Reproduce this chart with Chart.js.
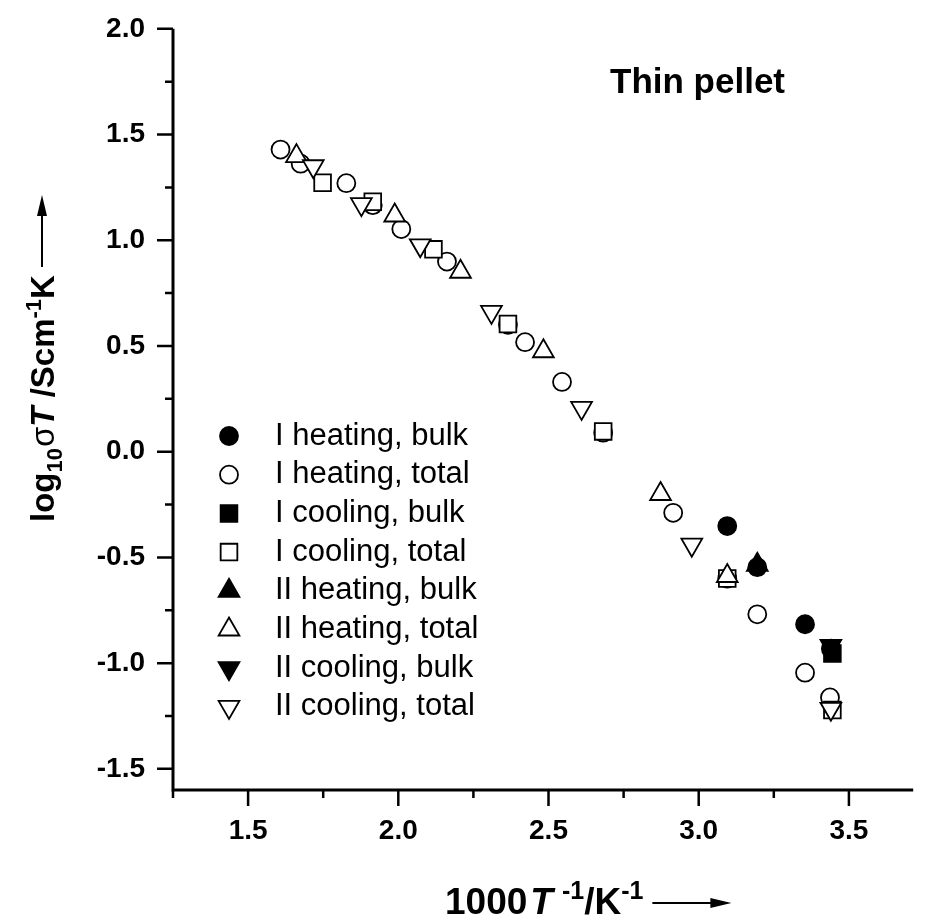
<!DOCTYPE html>
<html>
<head>
<meta charset="utf-8">
<title>Thin pellet</title>
<script src="https://cdn.jsdelivr.net/npm/chart.js@4.4.1/dist/chart.umd.min.js"></script>
<style>
  body { margin: 0; background: #fff; }
  canvas { display: block; }
</style>
</head>
<body>
<canvas id="pelletChart" width="927" height="922"></canvas>
<script>
// x = 1000/T (K^-1), y = log10(sigma*T)
const iHeatBulkX = [3.095, 3.195, 3.354, 3.440];
const iHeatBulkY = [-0.352, -0.546, -0.816, -0.932];
const iHeatTotalX = [1.608, 1.675, 1.827, 1.915, 2.010, 2.162, 2.365, 2.422, 2.545, 2.682, 2.915, 3.095, 3.195, 3.354, 3.437];
const iHeatTotalY = [1.429, 1.362, 1.270, 1.166, 1.053, 0.899, 0.600, 0.518, 0.330, 0.090, -0.289, -0.600, -0.769, -1.045, -1.162];
const iCoolBulkX = [3.445];
const iCoolBulkY = [-0.955];
const iCoolTotalX = [1.748, 1.915, 2.117, 2.365, 2.682, 3.095, 3.445];
const iCoolTotalY = [1.272, 1.182, 0.957, 0.604, 0.096, -0.600, -1.222];
const iiHeatBulkX = [3.195];
const iiHeatBulkY = [-0.535];
const iiHeatTotalX = [1.661, 1.988, 2.207, 2.483, 2.873, 3.095];
const iiHeatTotalY = [1.398, 1.117, 0.851, 0.475, -0.200, -0.588];
const iiCoolBulkX = [3.440];
const iiCoolBulkY = [-0.918];
const iiCoolTotalX = [1.717, 1.877, 2.073, 2.310, 2.610, 2.977, 3.440];
const iiCoolTotalY = [1.350, 1.171, 0.976, 0.661, 0.207, -0.440, -1.216];

const seriesLabels = ['I heating, bulk', 'I heating, total', 'I cooling, bulk', 'I cooling, total',
  'II heating, bulk', 'II heating, total', 'II cooling, bulk', 'II cooling, total'];
const xTickLabels = ['1.5', '2.0', '2.5', '3.0', '3.5'];
const yTickLabels = ['-1.5', '-1.0', '-0.5', '0.0', '0.5', '1.0', '1.5', '2.0'];

const FONT = "'Liberation Sans', Arial, sans-serif";
const radiusFor = { circle: 9, rect: 11.8, triangle: 12 };

function makeSet(i, xs, ys, style, filled, rot) {
  return {
    label: seriesLabels[i],
    data: xs.map((x, k) => ({ x: x, y: ys[k] })),
    pointStyle: style,
    pointRotation: rot || 0,
    pointRadius: radiusFor[style],
    pointBackgroundColor: filled ? '#000' : '#fff',
    pointBorderColor: '#000',
    pointBorderWidth: 1.8,
    showLine: false,
    order: 7 - i
  };
}

const datasets = [
  makeSet(0, iHeatBulkX, iHeatBulkY, 'circle', true),
  makeSet(1, iHeatTotalX, iHeatTotalY, 'circle', false),
  makeSet(2, iCoolBulkX, iCoolBulkY, 'rect', true),
  makeSet(3, iCoolTotalX, iCoolTotalY, 'rect', false),
  makeSet(4, iiHeatBulkX, iiHeatBulkY, 'triangle', true),
  makeSet(5, iiHeatTotalX, iiHeatTotalY, 'triangle', false),
  makeSet(6, iiCoolBulkX, iiCoolBulkY, 'triangle', true, 180),
  makeSet(7, iiCoolTotalX, iiCoolTotalY, 'triangle', false, 180)
];

const isMajor = v => Math.abs(v * 2 - Math.round(v * 2)) < 1e-6;
const labelFor = list => v => {
  const s = (Math.abs(v) < 1e-9 ? 0 : v).toFixed(1);
  return isMajor(v) && list.includes(s) ? s : '';
};

// draws a row of text pieces (sub/superscripts) and returns the end x
function drawParts(ctx, parts, x, y) {
  parts.forEach(p => {
    x += p.gap || 0;
    ctx.font = p.font;
    ctx.fillText(p.text, x, y + (p.dy || 0));
    x += ctx.measureText(p.text).width;
  });
  return x;
}

function arrow(ctx, x0, x1, y) {
  ctx.beginPath();
  ctx.lineWidth = 2;
  ctx.moveTo(x0, y);
  ctx.lineTo(x1 - 16, y);
  ctx.stroke();
  ctx.beginPath();
  ctx.moveTo(x1, y);
  ctx.lineTo(x1 - 21, y - 5);
  ctx.lineTo(x1 - 21, y + 5);
  ctx.closePath();
  ctx.fill();
}

const decorPlugin = {
  id: 'decor',
  afterDraw(chart) {
    const { ctx, chartArea: a, scales: { x, y } } = chart;
    ctx.save();
    ctx.strokeStyle = '#000';
    ctx.fillStyle = '#000';

    // axis lines and ticks
    ctx.lineWidth = 3;
    ctx.beginPath();
    ctx.moveTo(a.left, a.top);
    ctx.lineTo(a.left, a.bottom);
    ctx.lineTo(a.right, a.bottom);
    ctx.stroke();
    ctx.lineWidth = 2.5;
    ctx.beginPath();
    x.ticks.forEach(t => {
      const px = x.getPixelForValue(t.value);
      ctx.moveTo(px, a.bottom);
      ctx.lineTo(px, a.bottom + (isMajor(t.value) ? 16 : 8));
    });
    y.ticks.forEach(t => {
      const py = y.getPixelForValue(t.value);
      ctx.moveTo(a.left, py);
      ctx.lineTo(a.left - (isMajor(t.value) ? 16 : 8), py);
    });
    ctx.stroke();

    // panel title
    ctx.textBaseline = 'alphabetic';
    ctx.font = 'bold 35px ' + FONT;
    ctx.fillText('Thin pellet', 610, 93);

    // x axis title
    let ex = drawParts(ctx, [
      { text: '1000', font: 'bold 37px ' + FONT },
      { text: 'T', font: 'italic bold 37px ' + FONT, gap: 3 },
      { text: '-1', font: 'bold 25px ' + FONT, dy: -15, gap: 9 },
      { text: '/K', font: 'bold 37px ' + FONT },
      { text: '-1', font: 'bold 25px ' + FONT, dy: -15 }
    ], 445, 914);
    arrow(ctx, ex + 9, ex + 88, 903);

    // y axis title, rotated
    ctx.save();
    ctx.translate(54, 522);
    ctx.rotate(-Math.PI / 2);
    ex = drawParts(ctx, [
      { text: 'log', font: 'bold 33px ' + FONT },
      { text: '10', font: 'bold 22px ' + FONT, dy: 8 },
      { text: '\u03c3', font: '33px ' + FONT, gap: 1 },
      { text: 'T', font: 'italic bold 33px ' + FONT },
      { text: ' /Scm', font: 'bold 33px ' + FONT },
      { text: '-1', font: 'bold 22px ' + FONT, dy: -13 },
      { text: 'K', font: 'bold 33px ' + FONT }
    ], 0, 0);
    arrow(ctx, ex + 8, ex + 80, -12);
    ctx.restore();

    // legend
    const draw = Chart.helpers.drawPoint;
    ctx.font = '31px ' + FONT;
    ctx.textBaseline = 'middle';
    chart.data.datasets.forEach((ds, i) => {
      const ly = 436 + i * 38.7;
      ctx.fillStyle = ds.pointBackgroundColor;
      ctx.strokeStyle = '#000';
      ctx.lineWidth = 1.8;
      draw(ctx, { pointStyle: ds.pointStyle, rotation: ds.pointRotation, radius: ds.pointRadius, borderWidth: 1.8 }, 229, ly);
      ctx.fillStyle = '#000';
      ctx.fillText(ds.label, 275, ly);
    });
    ctx.restore();
  }
};

new Chart(document.getElementById('pelletChart').getContext('2d'), {
  type: 'scatter',
  data: { datasets: datasets },
  options: {
    responsive: false,
    animation: false,
    events: [],
    layout: { padding: { top: 26, right: 0, bottom: 0, left: 0 } },
    plugins: { legend: { display: false }, tooltip: { enabled: false } },
    scales: {
      x: {
        type: 'linear',
        min: 1.25,
        max: 3.714,
        afterFit: s => { s.height = 132; },
        border: { display: false },
        grid: { display: false, drawTicks: true, tickLength: 16 },
        ticks: {
          stepSize: 0.25,
          includeBounds: false,
          autoSkip: false,
          maxRotation: 0,
          padding: 8,
          color: '#000',
          font: { family: FONT, size: 28, weight: 'bold' },
          callback: labelFor(xTickLabels)
        }
      },
      y: {
        type: 'linear',
        min: -1.6,
        max: 2.0,
        afterFit: s => { s.width = 173; },
        border: { display: false },
        grid: { display: false, drawTicks: true, tickLength: 16 },
        ticks: {
          stepSize: 0.25,
          includeBounds: false,
          autoSkip: false,
          padding: 12,
          color: '#000',
          font: { family: FONT, size: 28, weight: 'bold' },
          callback: labelFor(yTickLabels)
        }
      }
    }
  },
  plugins: [decorPlugin]
});
</script>
</body>
</html>
